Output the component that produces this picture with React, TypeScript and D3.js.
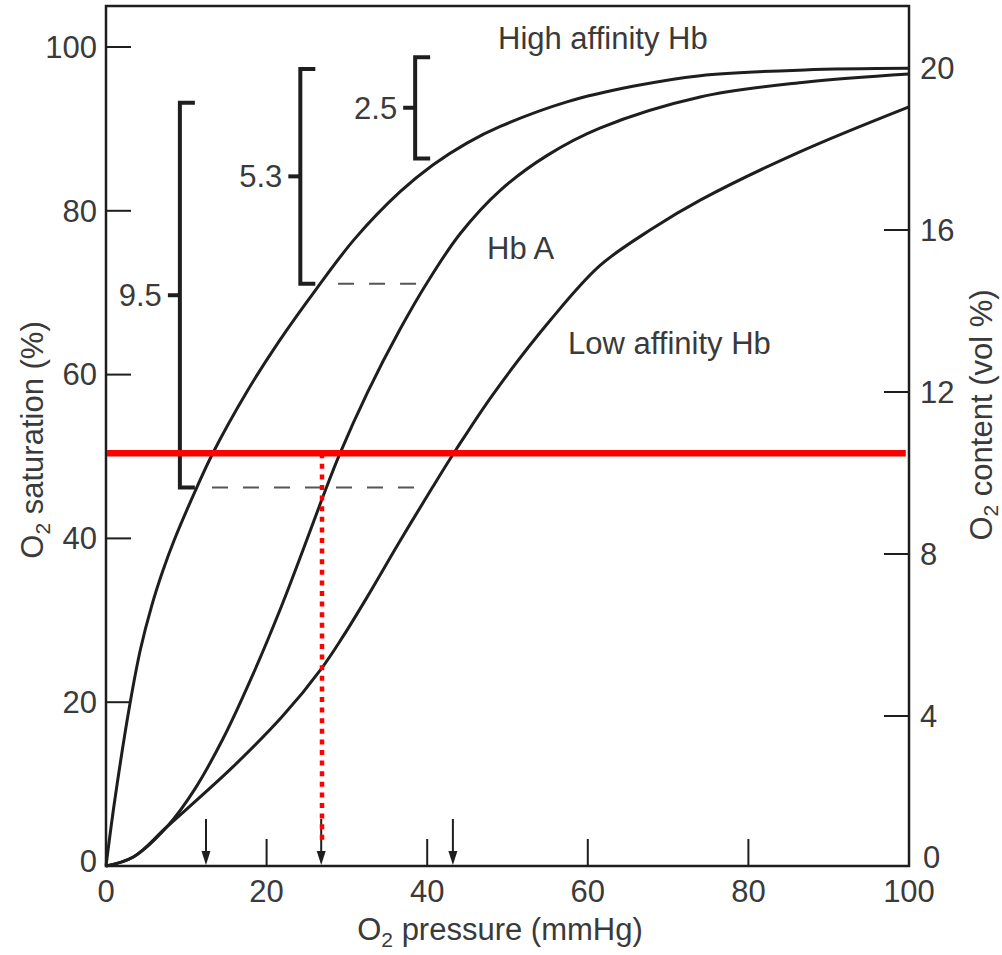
import React from "react";
import * as d3 from "d3";

// Oxygen dissociation curves: saturation (%) vs O2 pressure (mmHg)
const pressureTicks = [0, 20, 40, 60, 80, 100];
const saturationTicks = [0, 20, 40, 60, 80, 100];
const contentTicks = [4, 8, 12, 16, 20];

const highAffinity: [number, number][] = [
  [0, 0], [1.1, 8.1], [3.0, 19.9], [4.3, 26.5], [5.7, 31.8], [7.1, 36.1],
  [8.5, 39.8], [11.3, 46.2], [13.3, 50.4], [17.6, 58.0], [21.5, 64.0], [26.3, 70.6],
  [31, 76.6], [36.6, 82.3], [40.7, 85.6], [45, 88.3], [49.1, 90.3], [57.4, 93.3],
  [65.6, 95.2], [74, 96.5], [87, 97.2], [100, 97.4],
];
const hbA: [number, number][] = [
  [0, 0], [3.4, 1.1], [7.6, 4.8], [11, 9.3], [14.6, 15.6], [18.3, 23.4],
  [21.8, 31.6], [24.5, 38.5], [26.9, 44.8], [29.1, 50.3], [32.6, 57.9], [36.6, 65.5],
  [40.1, 71.4], [44.1, 77.2], [49.1, 82.5], [55, 86.8], [61.5, 90.1], [74, 93.9],
  [87, 95.7], [100, 96.7],
];
const lowAffinity: [number, number][] = [
  [0, 0], [3.4, 1.1], [7.6, 4.8], [15.8, 12.1], [22.0, 18.3], [26.9, 24.2],
  [29.5, 28.0], [32.5, 32.8], [36.5, 39.5], [40.7, 46.3], [43.7, 51.0], [48.2, 57.6],
  [55.3, 66.6], [61.5, 73.3], [68, 77.8], [74, 81.3], [86.4, 87.2], [100, 92.7],
];

// Brackets: O2 content released (vol %) between two saturation levels
const bracketLabels = ["9.5", "5.3", "2.5"];
const bracketSpans = [9.5, 5.3, 2.5];
const bracketPressures = [9.2, 24.2, 38.5];
const bracketBaseSat = [46.2, 71.1, 86.4];

// Dashed reference levels: [saturation, from pressure, to pressure]
const dashedLevels: [number, number, number][] = [
  [46.2, 13.2, 40.2],
  [71.1, 28.9, 39.6],
];

// P50 markers on the pressure axis
const p50Arrows = [12.45, 26.8, 43.2];

// Highlighted 50 % line and the pressure read at it
const halfSaturation = 50.4;
const markedPressure = 26.9;

const FONT = "'Liberation Sans', Arial, Helvetica, sans-serif";
const INK = "#1e1e1e";
const TEXT = "#3a3a3a";

export default function App() {
  const W = 1002, H = 955;
  const left = 106, right = 909, top = 6, bottom = 866;

  const x = d3.scaleLinear().domain([0, 100]).range([left, right]);
  const yS = d3.scaleLinear().domain([0, 100]).range([bottom, 47]);
  const yV = d3.scaleLinear().domain([0, 20]).range([878, 68]);

  const line = d3
    .line<[number, number]>()
    .x((d) => x(d[0]))
    .y((d) => yS(d[1]))
    .curve(d3.curveCatmullRom.alpha(0.5));

  const fs = 31;

  return (
    <svg
      width={W}
      height={H}
      style={{ position: "absolute", left: 0, top: 0, background: "#fff" }}
      fontFamily={FONT}
    >
      <rect width={W} height={H} fill="#fff" />

      {/* frame */}
      <path
        d={`M${left},${bottom} V${top} H${right} V${bottom} Z`}
        fill="none"
        stroke={INK}
        strokeWidth={2.5}
      />

      {/* left axis ticks */}
      {saturationTicks.map((t) => (
        <g key={"ls" + t}>
          {t > 0 && (
            <line x1={left} x2={left + 25} y1={yS(t)} y2={yS(t)} stroke={INK} strokeWidth={2} />
          )}
          <text
            x={left - 9}
            y={Math.min(yS(t), bottom - 5)}
            dy="0.35em"
            textAnchor="end"
            fontSize={fs}
            fill={TEXT}
          >
            {t}
          </text>
        </g>
      ))}

      {/* right axis ticks */}
      {contentTicks.map((t) => (
        <g key={"rc" + t}>
          <line x1={right - 25} x2={right} y1={yV(t)} y2={yV(t)} stroke={INK} strokeWidth={2} />
          <text x={right + 11} y={yV(t)} dy="0.35em" fontSize={fs} fill={TEXT}>
            {t}
          </text>
        </g>
      ))}
      <text x={right + 14} y={bottom - 9} dy="0.35em" fontSize={fs} fill={TEXT}>
        0
      </text>

      {/* bottom axis ticks */}
      {pressureTicks.map((t) => (
        <g key={"bp" + t}>
          {t > 0 && t < 100 && (
            <line x1={x(t)} x2={x(t)} y1={bottom} y2={bottom - 27} stroke={INK} strokeWidth={2} />
          )}
          <text x={x(t)} y={bottom + 36} textAnchor="middle" fontSize={fs} fill={TEXT}>
            {t}
          </text>
        </g>
      ))}

      {/* axis titles */}
      <text x={500} y={940} textAnchor="middle" fontSize={fs} fill={TEXT}>
        O<tspan fontSize={21} dy={7}>2</tspan>
        <tspan dy={-7}> pressure (mmHg)</tspan>
      </text>
      <text
        transform={`translate(43,440) rotate(-90)`}
        textAnchor="middle"
        fontSize={fs}
        fill={TEXT}
      >
        O<tspan fontSize={21} dy={7}>2</tspan>
        <tspan dy={-7}> saturation (%)</tspan>
      </text>
      <text
        transform={`translate(992,415) rotate(-90)`}
        textAnchor="middle"
        fontSize={fs}
        fill={TEXT}
      >
        O<tspan fontSize={21} dy={6}>2</tspan>
        <tspan dy={-6}> content (vol %)</tspan>
      </text>

      {/* dashed reference levels */}
      {dashedLevels.map(([s, p0, p1], i) => (
        <line
          key={"dl" + i}
          x1={x(p0)}
          x2={x(p1)}
          y1={yS(s)}
          y2={yS(s)}
          stroke="#555"
          strokeWidth={2}
          strokeDasharray="16 15"
        />
      ))}

      {/* curves */}
      {[highAffinity, hbA, lowAffinity].map((d, i) => (
        <path key={"c" + i} d={line(d) || ""} fill="none" stroke={INK} strokeWidth={3} />
      ))}

      {/* brackets */}
      {bracketLabels.map((lab, i) => {
        const bx = x(bracketPressures[i]);
        const yb = yS(bracketBaseSat[i]);
        const yt = yb - (yV(0) - yV(bracketSpans[i]));
        const ym = (yb + yt) / 2;
        return (
          <g key={"br" + i}>
            <path
              d={`M${bx + 15},${yt} H${bx} V${yb} H${bx + 15}`}
              fill="none"
              stroke={INK}
              strokeWidth={4}
            />
            <line x1={bx - 12} x2={bx} y1={ym} y2={ym} stroke={INK} strokeWidth={4} />
            <text x={bx - 18} y={ym} dy="0.35em" textAnchor="end" fontSize={fs} fill={TEXT}>
              {lab}
            </text>
          </g>
        );
      })}

      {/* curve labels */}
      <text x={498} y={49} fontSize={fs} fill={TEXT}>High affinity Hb</text>
      <text x={487} y={259} fontSize={fs} fill={TEXT}>Hb A</text>
      <text x={568} y={354} fontSize={fs} fill={TEXT}>Low affinity Hb</text>

      {/* P50 arrows */}
      {p50Arrows.map((p, i) => (
        <g key={"ar" + i}>
          <line x1={x(p)} x2={x(p)} y1={bottom - 47} y2={bottom - 12} stroke={INK} strokeWidth={2} />
          <path
            d={`M${x(p) - 4.5},${bottom - 15} L${x(p) + 4.5},${bottom - 15} L${x(p)},${bottom - 1} Z`}
            fill={INK}
          />
        </g>
      ))}

      {/* red highlight lines */}
      <line
        x1={x(markedPressure)}
        x2={x(markedPressure)}
        y1={yS(halfSaturation)}
        y2={bottom - 21}
        stroke="#ff0000"
        strokeWidth={4.5}
        strokeDasharray="5 5.6"
      />
      <line
        x1={x(0) + 1}
        x2={x(99.6)}
        y1={yS(halfSaturation)}
        y2={yS(halfSaturation)}
        stroke="#ff0000"
        strokeWidth={6.5}
      />
    </svg>
  );
}
